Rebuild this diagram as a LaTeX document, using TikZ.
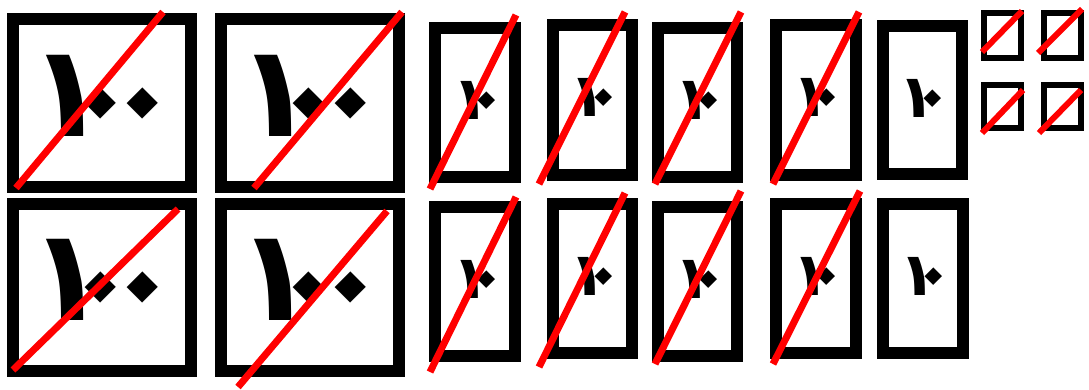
\documentclass[tikz,border=0pt]{standalone}
\usepackage{graphicx}
\usepackage{fontspec}
\newfontfamily\arabicfont{DejaVu Sans}
\newcommand\dzero[1][1]{\makebox[0pt]{\scalebox{#1}{\rotatebox[origin=c]{45}{٠}}}}
\begin{document}
\begin{tikzpicture}[x=1pt,y=-1pt,
  frame/.style={draw=black,line width=12pt},
  smallframe/.style={draw=black,line width=6pt},
  strike/.style={draw=red,line width=7pt},
  smallstrike/.style={draw=red,line width=6pt},
  bignum/.style={font=\arabicfont\bfseries\fontsize{128}{128}\selectfont,inner sep=0pt,anchor=base west},
  midnum/.style={font=\arabicfont\bfseries\fontsize{60}{60}\selectfont,inner sep=0pt,anchor=base west}]
\useasboundingbox (0,0) rectangle (1089,389);
% big frames
\draw[frame] (13,19) rectangle (191,187);
\draw[frame] (221,19) rectangle (399,187);
\draw[frame] (13,204) rectangle (191,371);
\draw[frame] (221,204) rectangle (399,371);
% medium frames top
\draw[frame] (435,28) rectangle (515,177);
\draw[frame] (553,25) rectangle (632,175);
\draw[frame] (658,28) rectangle (737,177);
\draw[frame] (776,25) rectangle (856,175);
\draw[frame] (883,26) rectangle (962,174);
% medium frames bottom
\draw[frame] (435,207) rectangle (515,356);
\draw[frame] (553,204) rectangle (632,353);
\draw[frame] (658,207) rectangle (737,356);
\draw[frame] (776,204) rectangle (856,353);
\draw[frame] (883,204) rectangle (963,353);
% small frames
\draw[smallframe] (984,13) rectangle (1021,58);
\draw[smallframe] (1044,13) rectangle (1081,58);
\draw[smallframe] (984,85) rectangle (1021,128);
\draw[smallframe] (1044,85) rectangle (1081,128);
% numbers
\node[bignum] (t1) at (67,136) {\makebox[0pt]{١}\hspace{42pt}\dzero\hspace{42pt}\dzero};
\node[bignum] (t2) at (275,136) {\makebox[0pt]{١}\hspace{42pt}\dzero\hspace{42pt}\dzero};
\node[bignum] (t3) at (67,320) {\makebox[0pt]{١}\hspace{42pt}\dzero\hspace{42pt}\dzero};
\node[bignum] (t4) at (275,320) {\makebox[0pt]{١}\hspace{42pt}\dzero\hspace{42pt}\dzero};
\node[midnum] (t5) at (471,119) {\makebox[0pt]{١}\hspace{21pt}\dzero[1.2]};
\node[midnum] (t6) at (588,116) {\makebox[0pt]{١}\hspace{21pt}\dzero[1.2]};
\node[midnum] (t7) at (693,119) {\makebox[0pt]{١}\hspace{21pt}\dzero[1.2]};
\node[midnum] (t8) at (811,116) {\makebox[0pt]{١}\hspace{21pt}\dzero[1.2]};
\node[midnum] (t9) at (917,117) {\makebox[0pt]{١}\hspace{21pt}\dzero[1.2]};
\node[midnum] (t10) at (471,298) {\makebox[0pt]{١}\hspace{21pt}\dzero[1.2]};
\node[midnum] (t11) at (588,295) {\makebox[0pt]{١}\hspace{21pt}\dzero[1.2]};
\node[midnum] (t12) at (693,298) {\makebox[0pt]{١}\hspace{21pt}\dzero[1.2]};
\node[midnum] (t13) at (811,295) {\makebox[0pt]{١}\hspace{21pt}\dzero[1.2]};
\node[midnum] (t14) at (918,295) {\makebox[0pt]{١}\hspace{21pt}\dzero[1.2]};
% strikes
\draw[strike] (16,188) -- (163,12);
\draw[strike] (254,188) -- (402,12);
\draw[strike] (13,370) -- (178,209);
\draw[strike] (238,387) -- (387,211);
\draw[strike] (430,189) -- (516,15);
\draw[strike] (539,184) -- (625,12);
\draw[strike] (655,184) -- (741,12);
\draw[strike] (773,184) -- (859,12);
\draw[strike] (430,372) -- (516,197);
\draw[strike] (539,367) -- (625,193);
\draw[strike] (655,364) -- (741,191);
\draw[strike] (773,364) -- (860,191);
\draw[smallstrike] (982,52) -- (1022,11);
\draw[smallstrike] (1038,53) -- (1082,9);
\draw[smallstrike] (982,133) -- (1023,90);
\draw[smallstrike] (1039,133) -- (1081,90);
\end{tikzpicture}
\end{document}
